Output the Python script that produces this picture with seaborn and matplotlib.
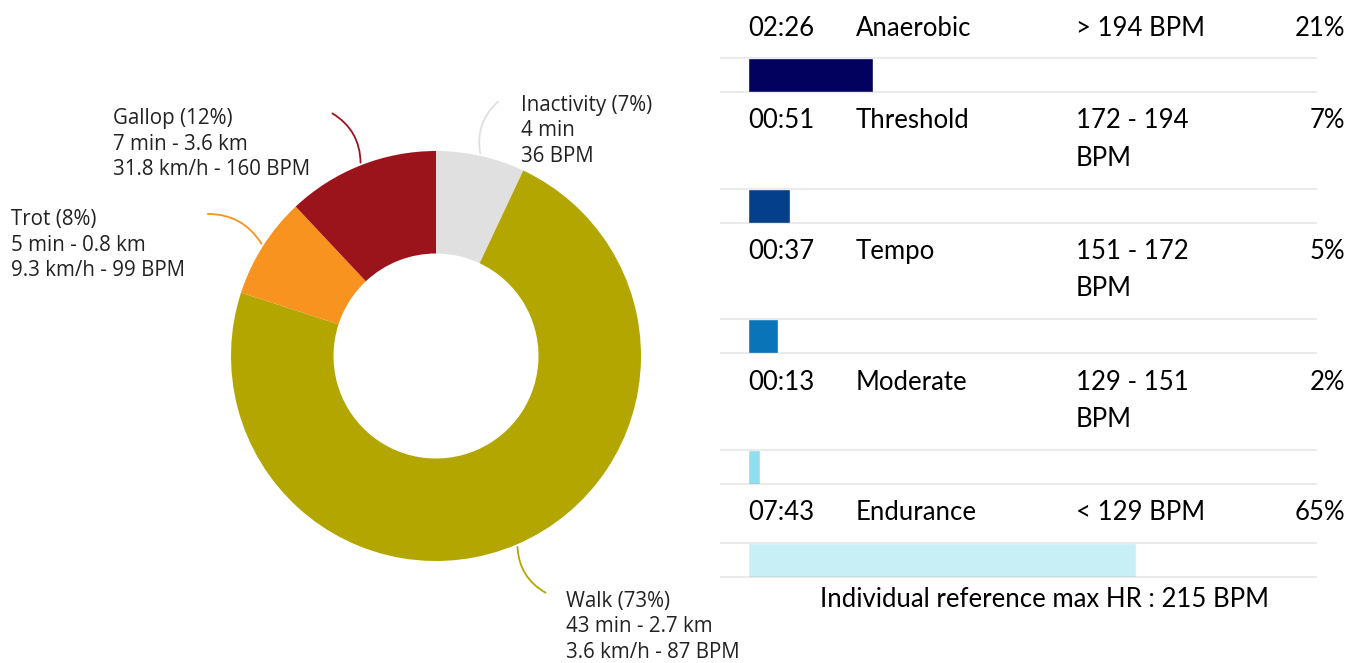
import textwrap
import numpy as np
import pandas as pd
import matplotlib
matplotlib.use('Agg')
import matplotlib.pyplot as plt
import seaborn as sns

# allures (donut)
gaits = ['Inactivity', 'Walk', 'Trot', 'Gallop']
gait_pct = [7, 73, 8, 12]
gait_detail = ['4 min\n36 BPM',
               '43 min - 2.7 km\n3.6 km/h - 87 BPM',
               '5 min - 0.8 km\n9.3 km/h - 99 BPM',
               '7 min - 3.6 km\n31.8 km/h - 160 BPM']
gait_colors = ['#e0e0e0', '#b3a600', '#f7931e', '#9b141c']

# zones cardiaques
zone_times = ['02:26', '00:51', '00:37', '00:13', '07:43']
zone_names = ['Anaerobic', 'Threshold', 'Tempo', 'Moderate', 'Endurance']
zone_ranges = ['> 194 BPM', '172 - 194 BPM', '151 - 172 BPM', '129 - 151 BPM', '< 129 BPM']
zone_pct = [21, 7, 5, 2, 65]
zone_colors = ['#02025e', '#033f8a', '#0a74b8', '#8edff0', '#c8eff6']
max_hr = 215

W, H = 1349, 663
sns.set_theme(style='white')
plt.rcParams['font.family'] = ['Open Sans', 'DejaVu Sans']

fig = plt.figure(figsize=(W / 100, H / 100), dpi=100)

# ---- donut ----
cx, cy, R = 436, 356, 205  # centre et rayon en pixels
ax = fig.add_axes([0, 0, 1, 1])
wedges, _ = ax.pie(gait_pct, colors=gait_colors, startangle=90, counterclock=False,
                   radius=1, wedgeprops=dict(width=0.5, linewidth=0))
ax.set_xlim(-cx / R, (W - cx) / R)
ax.set_ylim(-(H - cy) / R, cy / R)
ax.set_aspect('auto')
ax.axis('off')

def px(x, y):
    return ((x - cx) / R, (cy - y) / R)

# position des étiquettes (pixels) : bout du trait, coin du texte, courbure
label_layout = {
    'Inactivity': ((500, 100), (521, 131), 0.3),
    'Walk': ((548, 594), (566, 627), -0.3),
    'Trot': ((205, 214), (11, 245), -0.3),
    'Gallop': ((330, 112), (113, 144), -0.3),
}
for w, g, p, d, c in zip(wedges, gaits, gait_pct, gait_detail, gait_colors):
    end, txt, rad = label_layout[g]
    th = np.deg2rad((w.theta1 + w.theta2) / 2)
    start = (np.cos(th), np.sin(th))
    ax.annotate('', xy=start, xytext=px(*end),
                arrowprops=dict(arrowstyle='-', color=c, lw=1.3,
                                connectionstyle=f'arc3,rad={rad}'))
    ax.text(*px(*txt), f'{g} ({p}%)\n{d}', ha='left', va='center',
            fontsize=14.8, color='#222222', linespacing=1.3)

# ---- zones ----
x0, scale = 748, 5.97  # pixel du 0 %, pixels par %
ax_left = 712
axr = fig.add_axes([ax_left / W, 0, (W - ax_left) / W, 1])
axr.patch.set_alpha(0)

line_h, bar_h = 37.5, 34
y = -1
text_y, bar_c, seps = [], [], []
wrapped = [textwrap.wrap(r, 10) for r in zone_ranges]
for lines in wrapped:
    ty = y + 29
    text_y.append(ty)
    top = ty + line_h * (len(lines) - 1) + 30
    bar_c.append(top + bar_h / 2)
    seps += [top, top + bar_h]
    y = top + bar_h

df = pd.DataFrame({'pct': zone_pct, 'y': bar_c, 'zone': zone_names})
sns.barplot(data=df, x='pct', y='y', hue='zone', orient='h', native_scale=True,
            palette=dict(zip(zone_names, zone_colors)), saturation=1,
            width=bar_h / np.diff(bar_c).min(), errorbar=None, legend=False, ax=axr)

axr.hlines(seps, (720 - x0) / scale, (1317 - x0) / scale,
           color=(0, 0, 0, 0.08), lw=1.5, zorder=5)
axr.set_xlim((ax_left - x0) / scale, (W - x0) / scale)
axr.set_ylim(H, 0)
axr.axis('off')

tk = dict(fontsize=18.5, family=['Lato', 'DejaVu Sans'], color='black', va='center')
for t, n, lines, p, ty in zip(zone_times, zone_names, wrapped, zone_pct, text_y):
    axr.text(0, ty, t, ha='left', **tk)
    axr.text((856 - x0) / scale, ty, n, ha='left', **tk)
    for j, l in enumerate(lines):
        axr.text((1076 - x0) / scale, ty + j * line_h, l, ha='left', **tk)
    axr.text((1345 - x0) / scale, ty, f'{p}%', ha='right', **tk)

axr.text((1045 - x0) / scale, y + 23, f'Individual reference max HR : {max_hr} BPM',
         ha='center', **tk)

fig.savefig('out.png', dpi=100)
